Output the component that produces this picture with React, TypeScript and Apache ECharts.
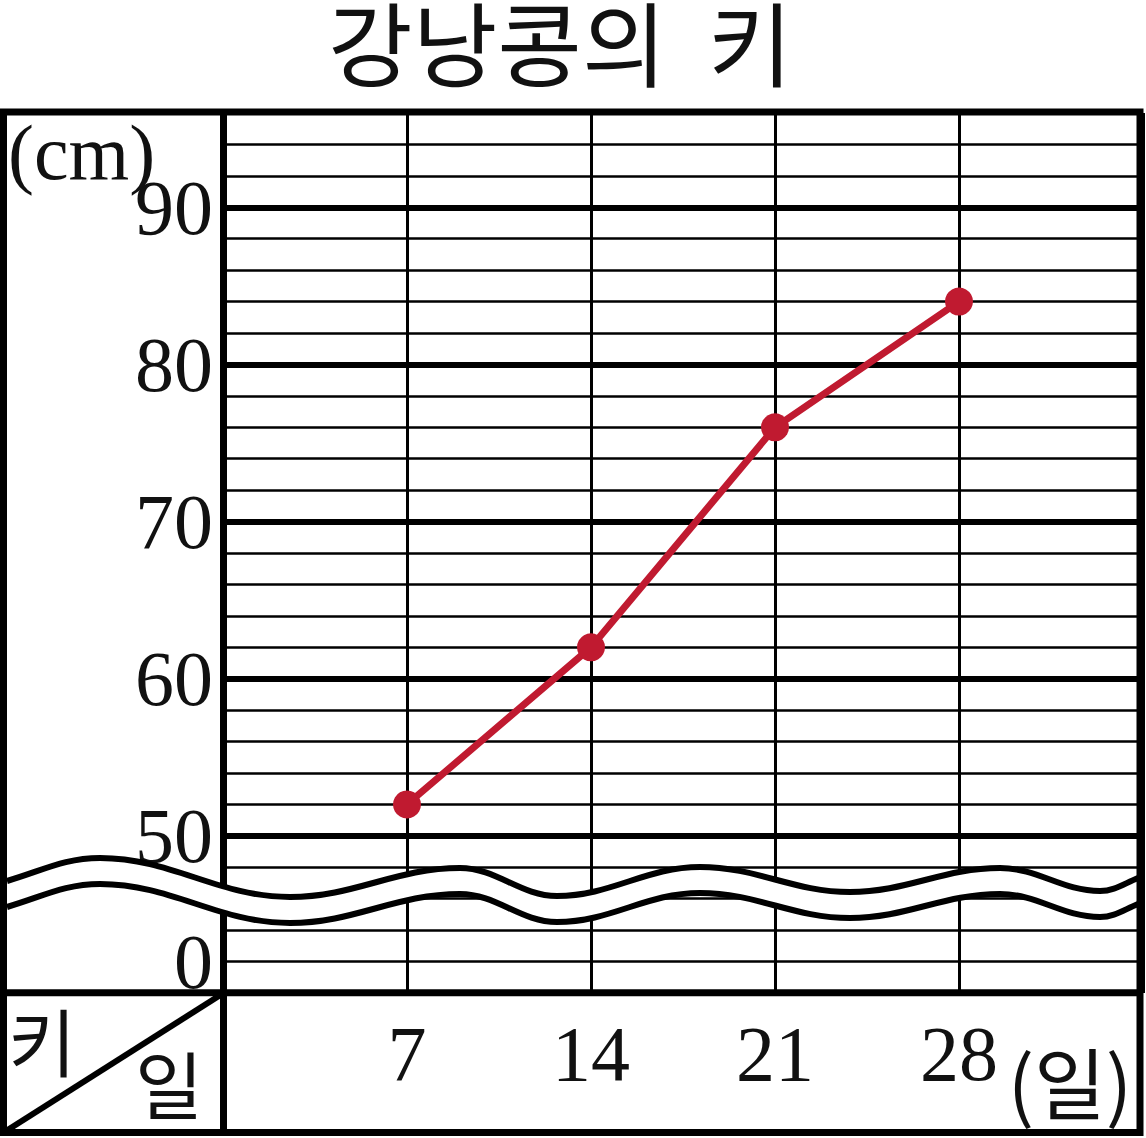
import React, { useEffect, useRef } from "react";
import * as echarts from "echarts";

// ---- data ----
const TITLE = "강낭콩의  키";
const DAYS = [7, 14, 21, 28];
const HEIGHTS_CM = [52, 62, 76, 84];
const X_TICK_LABELS = [7, 14, 21, 28];
const Y_TICK_LABELS = [0, 50, 60, 70, 80, 90];
const MAJOR_LINES = [50, 60, 70, 80, 90];
const Y_UNIT = "(cm)";
const X_UNIT = "(일)";
const CORNER_ROW = "키";
const CORNER_COL = "일";

// values above the axis break are drawn shifted down by this amount
const BREAK_SHIFT = 42;
const toDisplay = (v: number) => (v <= 2 ? v : v - BREAK_SHIFT);

// ---- decoration: the wavy axis-break band (pixel knots of its upper edge) ----
const WAVE_KNOTS: number[][] = [
  [7, 881], [100, 858], [290, 897], [460, 868], [557, 896],
  [700, 867], [850, 892], [1000, 868], [1100, 891], [1138, 878],
];
const WAVE_GAP = 26;

type Pt = number[];
function waveSegments(dy: number): Pt[][] {
  const pts = WAVE_KNOTS.map(([x, y]) => [x, y + dy]);
  const segs: Pt[][] = [];
  for (let i = 1; i < pts.length; i++) {
    const [x0, y0] = pts[i - 1];
    const [x1, y1] = pts[i];
    const k = (x1 - x0) * 0.38;
    let c1 = [x0 + k, y0];
    let c2 = [x1 - k, y1];
    if (i === 1) c1 = [x0 + k, y0 + (y1 - y0) * 0.45];
    if (i === pts.length - 1) c2 = [x1 - k, y1 + (y0 - y1) * 0.45];
    segs.push([[x0, y0], c1, c2, [x1, y1]]);
  }
  return segs;
}
const f = (p: Pt) => `${p[0].toFixed(2)} ${p[1].toFixed(2)}`;
function forwardPath(segs: Pt[][], withMove: boolean) {
  let d = withMove ? `M${f(segs[0][0])}` : "";
  for (const s of segs) d += ` C${f(s[1])} ${f(s[2])} ${f(s[3])}`;
  return d;
}
function reversePath(segs: Pt[][]) {
  let d = "";
  for (let i = segs.length - 1; i >= 0; i--) {
    const s = segs[i];
    d += ` C${f(s[2])} ${f(s[1])} ${f(s[0])}`;
  }
  return d;
}

let registered = false;
function registerWave() {
  if (registered) return;
  registered = true;
  const top = waveSegments(0);
  const bot = waveSegments(WAVE_GAP);
  const band =
    forwardPath(top, true) +
    ` L${f(bot[bot.length - 1][3])}` +
    reversePath(bot) +
    " Z";
  const lines = forwardPath(top, true) + " " + forwardPath(bot, true);
  echarts.graphic.registerShape(
    "waveBand",
    (echarts.graphic as any).extendPath(band, {})
  );
  echarts.graphic.registerShape(
    "waveLines",
    (echarts.graphic as any).extendPath(lines, {})
  );
}

const SERIF = '"Liberation Serif", "DejaVu Serif", serif';
const KR = '"Noto Sans CJK KR", "Noto Sans", sans-serif';
const INK = "#111";
const RED = "#C01A30";

export default function App() {
  const ref = useRef<HTMLDivElement>(null);

  useEffect(() => {
    if (!ref.current) return;
    registerWave();
    const chart = echarts.init(ref.current, null, { renderer: "svg" });

    const yLabel = (d: number) => {
      const hit = Y_TICK_LABELS.find((v) => toDisplay(v) === d);
      return hit === undefined ? "" : String(hit);
    };

    chart.setOption({
      animation: false,
      backgroundColor: "#fff",
      grid: { left: 223, right: 3, top: 113, bottom: 145, containLabel: false },
      xAxis: {
        type: "value",
        min: 0,
        max: 35,
        interval: 7,
        axisLine: { show: false },
        axisTick: { show: false },
        splitLine: { show: true, lineStyle: { color: "#000", width: 3 } },
        axisLabel: {
          margin: 60,
          verticalAlign: "middle",
          fontSize: 78,
          fontFamily: SERIF,
          color: INK,
          formatter: (v: number) =>
            X_TICK_LABELS.includes(v) ? String(v) : "",
        },
      },
      yAxis: {
        type: "value",
        min: -2,
        max: 54,
        interval: 2,
        axisLine: { show: false },
        axisTick: { show: false },
        splitLine: { show: true, lineStyle: { color: "#000", width: 2.5 } },
        axisLabel: {
          margin: 10,
          fontSize: 78,
          fontFamily: SERIF,
          color: INK,
          formatter: yLabel,
        },
      },
      series: [
        {
          type: "line",
          data: DAYS.map((d, i) => [d, toDisplay(HEIGHTS_CM[i])]),
          symbol: "circle",
          symbolSize: 28,
          lineStyle: { color: RED, width: 7 },
          itemStyle: { color: RED },
          z: 5,
          markLine: {
            silent: true,
            symbol: ["none", "none"],
            label: { show: false },
            lineStyle: { color: "#000", width: 6, type: "solid" },
            emphasis: { disabled: true },
            data: MAJOR_LINES.map((v) => ({ yAxis: toDisplay(v) })),
            z: 3,
          },
        },
      ],
      graphic: [
        {
          type: "line",
          shape: { x1: 223.5, y1: 112, x2: 223.5, y2: 1133 },
          style: { stroke: "#000", lineWidth: 7 },
          z: 10,
        },
        {
          type: "waveBand",
          x: 0,
          y: 0,
          style: { fill: "#fff", stroke: null },
          z: 50,
        },
        {
          type: "waveLines",
          x: 0,
          y: 0,
          style: { fill: "none", stroke: "#000", lineWidth: 6 },
          z: 51,
        },
        {
          type: "rect",
          shape: { x: 3.5, y: 112, width: 1136.5, height: 1020.5 },
          style: { fill: "none", stroke: "#000", lineWidth: 7 },
          z: 60,
        },
        {
          type: "line",
          shape: { x1: 3, y1: 992.7, x2: 1140, y2: 992.7 },
          style: { stroke: "#000", lineWidth: 7 },
          z: 60,
        },
        {
          type: "line",
          shape: { x1: 6, y1: 1131, x2: 222, y2: 994 },
          style: { stroke: "#000", lineWidth: 6 },
          z: 60,
        },
        {
          type: "text",
          x: 328,
          y: 39,
          style: {
            text: TITLE,
            fontSize: 92,
            lineHeight: 76,
            fontFamily: KR,
            fill: INK,
            align: "left",
            verticalAlign: "middle",
          },
          z: 70,
        },
        {
          type: "text",
          x: 8,
          y: 152,
          style: {
            text: Y_UNIT,
            fontSize: 78,
            fontFamily: SERIF,
            fill: INK,
            align: "left",
            verticalAlign: "middle",
          },
          z: 70,
        },
        {
          type: "text",
          x: 42,
          y: 1038,
          style: {
            text: CORNER_ROW,
            fontSize: 74,
            fontFamily: KR,
            fill: INK,
            align: "center",
            verticalAlign: "middle",
          },
          z: 70,
        },
        {
          type: "text",
          x: 169,
          y: 1081,
          style: {
            text: CORNER_COL,
            fontSize: 74,
            fontFamily: KR,
            fill: INK,
            align: "center",
            verticalAlign: "middle",
          },
          z: 70,
        },
        {
          type: "text",
          x: 1070,
          y: 1080,
          style: {
            text: X_UNIT,
            fontSize: 78,
            fontFamily: KR,
            fill: INK,
            align: "center",
            verticalAlign: "middle",
          },
          z: 70,
        },
      ],
    });

    return () => chart.dispose();
  }, []);

  return (
    <div
      ref={ref}
      style={{ position: "absolute", left: 0, top: 0, width: 1146, height: 1138 }}
    />
  );
}
